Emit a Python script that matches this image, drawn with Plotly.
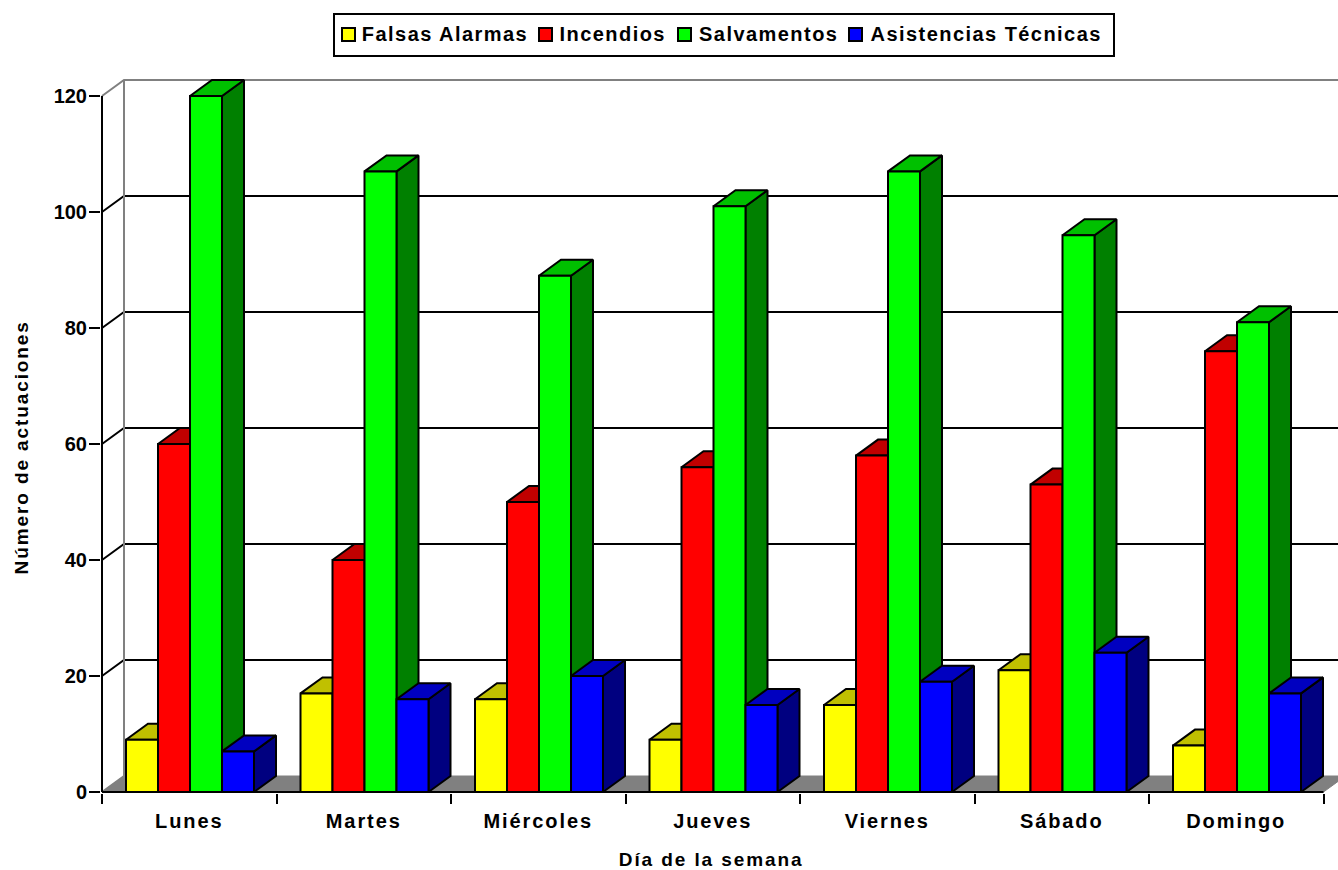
import plotly.graph_objects as go

categorias = ["Lunes", "Martes", "Miércoles", "Jueves", "Viernes", "Sábado", "Domingo"]
falsas_alarmas = [9, 17, 16, 9, 15, 21, 8]
incendios = [60, 40, 50, 56, 58, 53, 76]
salvamentos = [120, 107, 89, 101, 107, 96, 81]
asistencias = [7, 16, 20, 15, 19, 24, 17]
valores_eje_y = [0, 20, 40, 60, 80, 100, 120]

series = [
    ("Falsas Alarmas", falsas_alarmas, "#FFFF00", "#C0C000", "#808000"),
    ("Incendios", incendios, "#FF0000", "#C00000", "#800000"),
    ("Salvamentos", salvamentos, "#00FF00", "#00C000", "#008000"),
    ("Asistencias Técnicas", asistencias, "#0000FF", "#0000C0", "#000080"),
]

W, H = 1338, 870
AX_L, AX_B = 102, 792       # pixel position of data origin
PX_CAT, PX_VAL = 174.5, 5.8  # pixels per category / per value unit
TOP = 78
DX, DY = 22 / PX_CAT, 16 / PX_VAL  # oblique depth in data units
BAR_W = 32 / PX_CAT
BAR_0 = 24 / PX_CAT
X_END = (W - AX_L) / PX_CAT + 0.2  # lines run past the right edge

FONT = "Liberation Sans"
fig = go.Figure()


def poly(xs, ys, fill=None, line="black", width=2, name=None, hover=None):
    closed = fill is not None
    fig.add_trace(go.Scatter(
        x=xs + xs[:1] if closed else xs,
        y=ys + ys[:1] if closed else ys,
        mode="lines",
        fill="toself" if closed else "none",
        fillcolor=fill,
        line=dict(color=line, width=width),
        showlegend=False,
        name=name,
        hoverinfo="text" if hover else "skip",
        text=hover,
    ))


# floor
poly([0, DX, 7 + DX, 7], [0, DY, DY, 0], fill="#808080", line="#808080", width=1)
# grid lines on the back wall
for v in valores_eje_y[1:-1]:
    poly([0, DX, X_END], [v, v + DY, v + DY], line="black")
top = valores_eje_y[-1]
poly([0, DX, X_END], [top, top + DY, top + DY], line="#808080")
poly([0, DX], [0, DY], line="#808080")
poly([DX, DX], [DY, top + DY], line="#808080")
# axis lines
poly([0, 0], [0, top], line="black")

# bars, painted left to right
for c, cat in enumerate(categorias):
    for s, (nombre, vals, front, tope, lado) in enumerate(series):
        v = vals[c]
        x0 = c + BAR_0 + s * BAR_W
        x1 = x0 + BAR_W
        poly([x1, x1 + DX, x1 + DX, x1], [0, DY, v + DY, v], fill=lado)
        poly([x0, x0 + DX, x1 + DX, x1], [v, v + DY, v + DY, v], fill=tope)
        poly([x0, x1, x1, x0], [0, 0, v, v], fill=front, name=nombre,
             hover=f"{cat} - {nombre}: {v}")

poly([0, 7], [0, 0], line="black")


def px(x):
    return (x - (AX_L - 1)) / (W - (AX_L - 1))


def py(y):
    return ((AX_B + 1) - y) / ((AX_B + 1) - TOP)


shapes = [dict(type="rect", xref="paper", yref="paper",
               x0=px(334), x1=px(1114), y0=py(56), y1=py(14),
               line=dict(color="black", width=2), fillcolor="white", layer="above")]
annotations = []
swatch_x = [342, 539, 678, 849]
text_x = [444.5, 612.5, 768, 985.5]
for (nombre, _, front, _, _), sx, tx in zip(series, swatch_x, text_x):
    shapes.append(dict(type="rect", xref="paper", yref="paper",
                       x0=px(sx), x1=px(sx + 13), y0=py(41), y1=py(28),
                       line=dict(color="black", width=2), fillcolor=front, layer="above"))
    annotations.append(dict(text=nombre, xref="paper", yref="paper", x=px(tx), y=py(34),
                            xanchor="center", yanchor="middle", showarrow=False,
                            font=dict(family=FONT, size=20, color="black", weight="bold")))
annotations.append(dict(text="Día de la semana", xref="paper", yref="paper", x=px(711.5), y=py(859),
                        xanchor="center", yanchor="middle", showarrow=False,
                        font=dict(family=FONT, size=19, color="black", weight="bold")))
annotations.append(dict(text="Número de actuaciones", xref="paper", yref="paper", x=px(20.5), y=py(448),
                        xanchor="center", yanchor="middle", showarrow=False, textangle=-90,
                        font=dict(family=FONT, size=19, color="black", weight="bold")))

fig.update_layout(
    width=W, height=H, autosize=False,
    margin=dict(l=AX_L - 1, r=0, t=TOP, b=H - AX_B - 1, pad=0),
    paper_bgcolor="white", plot_bgcolor="white",
    showlegend=False,
    shapes=shapes,
    annotations=annotations,
    font=dict(family=FONT, size=20, color="black"),
    xaxis=dict(
        range=[-1 / PX_CAT, (W - AX_L) / PX_CAT],
        tickmode="array",
        tickvals=[i + 0.5 for i in range(len(categorias))],
        ticktext=categorias,
        ticks="outside", ticklen=10, tickcolor="rgba(0,0,0,0)",
        tickfont=dict(family=FONT, size=20, weight="bold"),
        showgrid=False, zeroline=False, showline=False,
        minor=dict(tickmode="array", tickvals=list(range(len(categorias) + 1)),
                   ticks="outside", ticklen=10, tickwidth=2, tickcolor="black", showgrid=False),
    ),
    yaxis=dict(
        range=[-1 / PX_VAL, (AX_B - TOP) / PX_VAL],
        tickmode="array", tickvals=valores_eje_y,
        ticks="outside", ticklen=11, tickwidth=2, tickcolor="black",
        ticklabelstandoff=-2,
        tickfont=dict(family=FONT, size=20, weight="bold"),
        showgrid=False, zeroline=False, showline=False,
    ),
)

post = """
document.body.style.margin = '0';
document.querySelectorAll('.xtick text').forEach(function (t) {
  t.style.letterSpacing = '1.9px';
});
document.querySelectorAll('.annotation-text').forEach(function (t, i) {
  t.style.letterSpacing = i < 4 ? '1.45px' : '1.9px';
});
"""
fig.write_html("out.html", post_script=post, config={"displayModeBar": False})
